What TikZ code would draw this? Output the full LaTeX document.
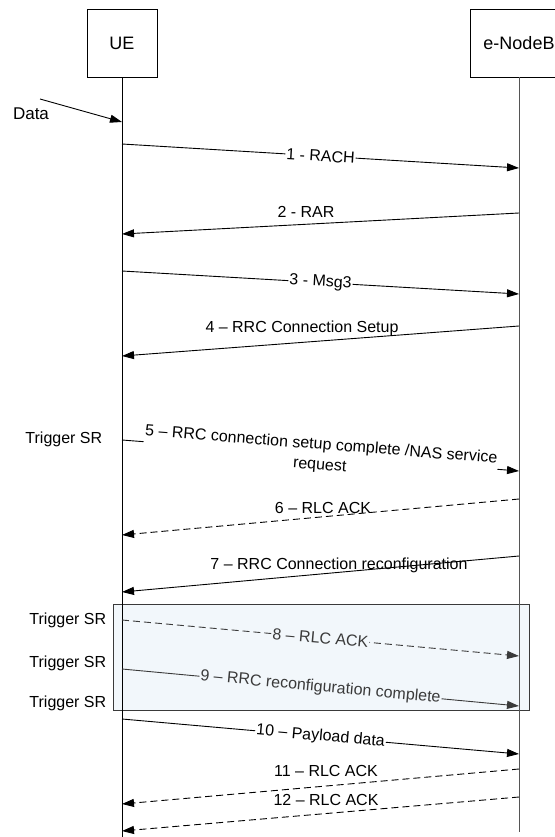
\documentclass[tikz,border=0pt]{standalone}
\usepackage{fontspec}
\setmainfont{Liberation Sans}
\usetikzlibrary{arrows.meta}

\definecolor{rahmenblau}{HTML}{F2F7FB}
\definecolor{dunkelgrau}{HTML}{3A3A3A}
\definecolor{liniengrau}{HTML}{555555}

\begin{document}
\begin{tikzpicture}[x=1pt,y=-1pt,line width=0.9pt,
	>={Triangle[length=12pt,width=8pt]},
	font=\fontsize{16}{19}\selectfont,
	kasten/.style={draw,minimum height=68pt,font=\fontsize{18}{21}\selectfont},
	quittung/.style={dash pattern=on 7pt off 4pt},
	aufpfeil/.style={fill=white,sloped,inner sep=1pt},
]

\useasboundingbox (0,0) rectangle (554,837);

% Bereich mit den Scheduling Requests
\draw[dunkelgrau,fill=rahmenblau] (113,604) rectangle (529,710);

% Instanzen und Lebenslinien
\node[kasten,minimum width=70pt] (ue) at (122,43) {UE};
\node[kasten,minimum width=98pt] (enb) at (519,43) {e-NodeB};
\coordinate (ue-ende) at (122,837);
\coordinate (enb-ende) at (519,832);
\draw (ue.south) -- (ue-ende);
\draw[liniengrau] (enb.south) -- (enb-ende);

% Endpunkte der Meldungen
\foreach \n/\yu/\ye in {1/144/168, 2/234/213, 3/271/294, 4/356/326,
		5/440/471, 6/535/499, 7/592/556, 8/620/656, 9/669/706,
		10/719/754, 11/804/769, 12/831/797}{
	\coordinate (u\n) at (122,\yu);
	\coordinate (e\n) at (519,\ye);
}

% Daten kommen an
\coordinate (daten) at (40,99);
\coordinate (ud) at (122,122);
\node[font=\fontsize{17}{20}\selectfont] (datentext) at (31,114) {Data};
\draw[->] (daten) -- (ud);

% Random Access
\draw[->] (u1) -- node[aufpfeil] (m1) {1 - RACH} (e1);
\draw[->] (e2) -- (u2);
\node (m2) at (306,212) {2 - RAR};
\draw[->] (u3) -- node[aufpfeil] (m3) {3 - Msg3} (e3);
\draw[->] (e4) -- (u4);
\node (m4) at (302,328) {4 – RRC Connection Setup};

% RRC Verbindung
\node[anchor=east] (sr1) at (106,439) {Trigger SR};
\draw[->] (u5) -- node[aufpfeil,align=center] (m5)
	{5 – RRC connection setup complete /NAS service\\[1.5pt]request} (e5);
\draw[->,quittung] (e6) -- (u6);
\node (m6) at (323,508) {6 – RLC ACK};
\draw[->] (e7) -- (u7);
\node (m7) at (339,565) {7 – RRC Connection reconfiguration};

% im Rahmen
\foreach \i/\y in {2/620,3/663,4/703}{
	\node[anchor=east] (sr\i) at (110,\y) {Trigger SR};
}
\draw[->,quittung,dunkelgrau] (u8) --
	node[aufpfeil,fill=rahmenblau,text=dunkelgrau] (m8) {8 – RLC ACK} (e8);
\draw[->,dunkelgrau] (u9) --
	node[aufpfeil,fill=rahmenblau,text=dunkelgrau] (m9) {9 – RRC reconfiguration complete} (e9);

% Nutzdaten
\draw[->] (u10) -- node[aufpfeil] (m10) {10 – Payload data} (e10);
\draw[->,quittung] (e11) -- (u11);
\node (m11) at (326,771) {11 – RLC ACK};
\draw[->,quittung] (e12) -- (u12);
\node (m12) at (326,800) {12 – RLC ACK};

\end{tikzpicture}
\end{document}
